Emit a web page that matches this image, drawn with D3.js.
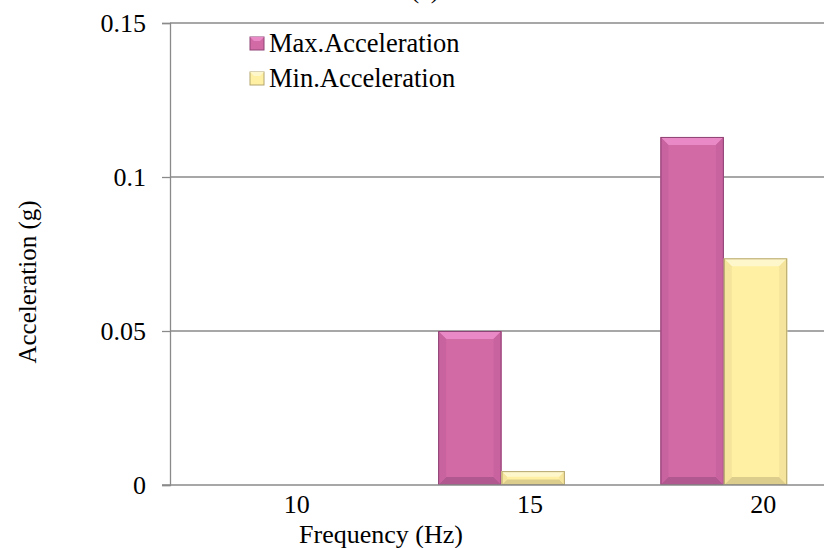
<!DOCTYPE html>
<html>
<head>
	<meta charset="utf-8">
	<script src="https://d3js.org/d3.v7.min.js"></script>
	<title>Acceleration vs Frequency</title>
	<style>
		body { margin: 0; background: #fff; }
		text { font-family: "Liberation Serif", "Times New Roman", serif; fill: #000; }
	</style>
</head>
<body>
	<div id="chart"></div>

	<script type="text/javascript">

		// data
		var frequencies = ["10", "15", "20"];
		var seriesNames = ["Max.Acceleration", "Min.Acceleration"];
		var maxAcceleration = [0, 0.05, 0.113];
		var minAcceleration = [0, 0.0045, 0.0736];
		var yTicks = [0, 0.05, 0.1, 0.15];
		var yTickLabels = ["0", "0.05", "0.1", "0.15"];

		var svgwidth = 824;
		var svgheight = 548;

		var colors = {
			"Max.Acceleration": {base: "#d26aa6", light: "#e98ac6", dark: "#b0588f", side: "#c8639f", edge: "#8e4474"},
			"Min.Acceleration": {base: "#fff0a3", light: "#fff7cc", dark: "#ddcd8c", side: "#f5e59c", edge: "#b3a66e"}
		};

		var data = frequencies.map(function(f, i){
			return {freq: f, values: [
				{name: seriesNames[0], value: maxAcceleration[i]},
				{name: seriesNames[1], value: minAcceleration[i]}
			]};
		});

		var svg = d3.select("#chart").append("svg")
			.attr("width", svgwidth)
			.attr("height", svgheight);

		var yScale = d3.scaleLinear()
			.domain([0, 0.15])
			.range([485, 23]);

		var xScale = d3.scaleBand()
			.domain(frequencies)
			.range([168, 835])
			.paddingInner(0.43)
			.paddingOuter(0.215);

		var xInner = d3.scaleBand()
			.domain(seriesNames)
			.range([0, xScale.bandwidth()]);

		// labels sit a little to the right of the bars in the original
		var xLabelScale = d3.scaleBand()
			.domain(frequencies)
			.range([180, 880]);

		// title, mostly cut off at the top
		svg.append("text")
			.attr("x", 425)
			.attr("y", -2)
			.attr("text-anchor", "middle")
			.style("font-size", "26px")
			.text("(a)");

		// gridlines
		svg.selectAll(".grid")
			.data(yTicks.slice(1)).enter().append("line")
			.attr("class", "grid")
			.attr("x1", 170)
			.attr("x2", svgwidth)
			.attr("y1", function(d){ return yScale(d); })
			.attr("y2", function(d){ return yScale(d); })
			.attr("stroke", "#8a8a8a")
			.attr("stroke-width", 1.3);

		// y axis
		var yAxis = d3.axisLeft(yScale)
			.tickValues(yTicks)
			.tickSize(8)
			.tickPadding(16)
			.tickFormat(function(d, i){ return yTickLabels[i]; });

		var gy = svg.append("g")
			.attr("transform", "translate(170,0)")
			.call(yAxis);
		gy.select(".domain").attr("stroke", "#8a8a8a").attr("stroke-width", 1.3);
		gy.selectAll(".tick line").attr("stroke", "#8a8a8a").attr("stroke-width", 1.3);
		gy.selectAll(".tick text")
			.style("font-family", "'Liberation Serif', serif")
			.style("font-size", "26px")
			.attr("dy", "0.32em");

		// bars
		var groups = svg.selectAll(".group")
			.data(data).enter().append("g")
			.attr("class", "group")
			.attr("transform", function(d){ return "translate(" + xScale(d.freq) + ",0)"; });

		var bars = groups.selectAll(".bar")
			.data(function(d){ return d.values.filter(function(v){ return v.value > 0; }); })
			.enter().append("g")
			.attr("class", "bar");

		bars.each(function(d){
			var g = d3.select(this);
			var x0 = xInner(d.name);
			var w = xInner.bandwidth();
			var y0 = yScale(d.value);
			var y1 = yScale(0);
			var h = y1 - y0;
			var b = Math.min(8, h / 2.5);
			var c = colors[d.name];

			g.append("rect")
				.attr("x", x0)
				.attr("y", y0)
				.attr("width", w)
				.attr("height", h)
				.attr("fill", c.base);
			// bevel: top, bottom, left, right
			g.append("path")
				.attr("d", "M" + x0 + "," + y0 + "L" + (x0 + w) + "," + y0 + "L" + (x0 + w - b) + "," + (y0 + b) + "L" + (x0 + b) + "," + (y0 + b) + "Z")
				.attr("fill", c.light);
			g.append("path")
				.attr("d", "M" + x0 + "," + y1 + "L" + (x0 + w) + "," + y1 + "L" + (x0 + w - b) + "," + (y1 - b) + "L" + (x0 + b) + "," + (y1 - b) + "Z")
				.attr("fill", c.dark);
			g.append("path")
				.attr("d", "M" + x0 + "," + y0 + "L" + (x0 + b) + "," + (y0 + b) + "L" + (x0 + b) + "," + (y1 - b) + "L" + x0 + "," + y1 + "Z")
				.attr("fill", c.side);
			g.append("path")
				.attr("d", "M" + (x0 + w) + "," + y0 + "L" + (x0 + w - b) + "," + (y0 + b) + "L" + (x0 + w - b) + "," + (y1 - b) + "L" + (x0 + w) + "," + y1 + "Z")
				.attr("fill", c.side);
			g.append("rect")
				.attr("x", x0 + 0.5)
				.attr("y", y0 + 0.5)
				.attr("width", w - 1)
				.attr("height", h - 1)
				.attr("fill", "none")
				.attr("stroke", c.edge)
				.attr("stroke-width", 1);
		});

		// x axis line
		svg.append("line")
			.attr("x1", 162)
			.attr("x2", svgwidth)
			.attr("y1", yScale(0))
			.attr("y2", yScale(0))
			.attr("stroke", "#8a8a8a")
			.attr("stroke-width", 1.3);

		svg.selectAll(".xlabel")
			.data(frequencies).enter().append("text")
			.attr("class", "xlabel")
			.attr("x", function(d){ return xLabelScale(d) + xLabelScale.bandwidth() / 2; })
			.attr("y", 513)
			.attr("text-anchor", "middle")
			.style("font-size", "26px")
			.text(function(d){ return d; });

		// axis titles
		svg.append("text")
			.attr("x", 381)
			.attr("y", 543)
			.attr("text-anchor", "middle")
			.style("font-size", "26px")
			.text("Frequency (Hz)");

		svg.append("text")
			.attr("transform", "translate(36,282) rotate(-90)")
			.attr("text-anchor", "middle")
			.style("font-size", "25px")
			.text("Acceleration (g)");

		// legend
		var legend = svg.selectAll(".legend")
			.data(seriesNames).enter().append("g")
			.attr("class", "legend")
			.attr("transform", function(d, i){ return "translate(250," + (37 + i * 35) + ")"; });

		legend.append("rect")
			.attr("width", 14)
			.attr("height", 13)
			.attr("fill", function(d){ return colors[d].base; })
			.attr("stroke", function(d){ return colors[d].edge; })
			.attr("stroke-width", 1);
		legend.append("path")
			.attr("d", "M0,0L14,0L10,4L4,4Z")
			.attr("fill", function(d){ return colors[d].light; });

		legend.append("text")
			.attr("x", 19)
			.attr("y", 15)
			.style("font-size", "26.5px")
			.text(function(d){ return d; });

	</script>

</body>
</html>
